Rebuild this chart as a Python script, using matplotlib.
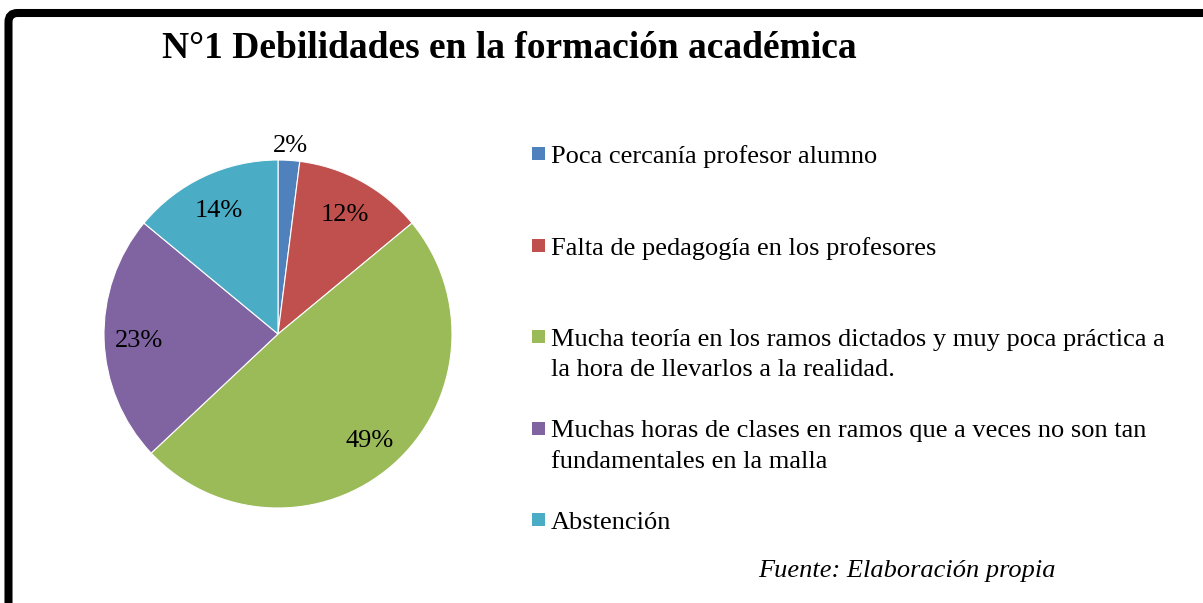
import matplotlib
matplotlib.use("Agg")
import numpy as np
import matplotlib.pyplot as plt
from matplotlib.patches import FancyBboxPatch, Rectangle
from matplotlib.transforms import IdentityTransform

# ------------------- data -------------------
categories = [
    "Poca cercanía profesor alumno",
    "Falta de pedagogía en los profesores",
    "Mucha teoría en los ramos dictados y muy poca práctica a\nla hora de llevarlos a la realidad.",
    "Muchas horas de clases en ramos que a veces no son tan\nfundamentales en la malla",
    "Abstención",
]
percentages = [2, 12, 49, 23, 14]
colors = ["#4F81BD", "#C0504D", "#9BBB59", "#8064A2", "#4BACC6"]

title = "N°1 Debilidades en la formación académica"
source = "Fuente: Elaboración propia"

plt.rcParams["font.family"] = ["Liberation Serif", "DejaVu Serif"]

W, H = 1203, 603
fig = plt.figure(figsize=(W / 100, H / 100), dpi=100)

# ------------------- pie -------------------
cx, cy, r = 278, 334, 174
ax = fig.add_axes([(cx - r) / W, (H - cy - r) / H, 2 * r / W, 2 * r / H])
wedges, _ = ax.pie(percentages, colors=colors, startangle=90, counterclock=False,
                   radius=1, wedgeprops=dict(linewidth=0.8, edgecolor="white"))
ax.set_xlim(-1, 1)
ax.set_ylim(-1, 1)
ax.axis("off")

for w, p in zip(wedges, percentages):
    ang = np.deg2rad((w.theta1 + w.theta2) / 2)
    dist = 1.1 if p < 5 else 0.8
    ax.text(dist * np.cos(ang), dist * np.sin(ang) - 0.015, f"{p}%",
            ha="center", va="center", fontsize=19, color="black")

# ------------------- legend -------------------
for i, (lab, col) in enumerate(zip(categories, colors)):
    base = 163 + 91.5 * i
    fig.patches.append(Rectangle((532, H - base + 3), 13, 13, facecolor=col,
                                 edgecolor="none", transform=IdentityTransform()))
    for j, line in enumerate(lab.split("\n")):
        fig.text(551 / W, (H - base - 30.5 * j) / H, line, ha="left",
                 va="baseline", fontsize=19)

# ------------------- texts -------------------
fig.text(509 / W, (H - 49) / H, title, ha="center", va="center",
         fontsize=27, fontweight="bold")
fig.text(758 / W, (H - 577) / H, source, ha="left", va="baseline",
         fontsize=19, style="italic")

# ------------------- border -------------------
border = FancyBboxPatch((8.5, -40), 1260, H - 13 + 40,
                        boxstyle="round,pad=0,rounding_size=9",
                        facecolor="none", edgecolor="black", linewidth=5.8,
                        transform=IdentityTransform())
fig.patches.append(border)

fig.savefig("out.png", dpi=100)
